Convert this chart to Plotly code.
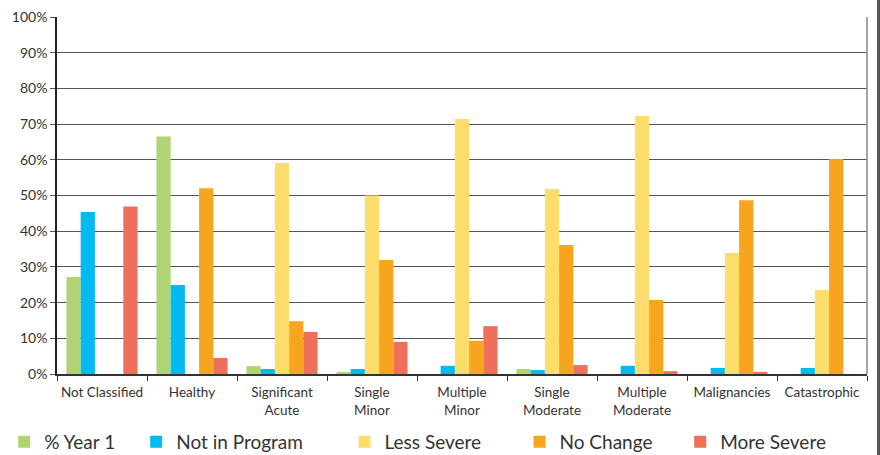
import plotly.graph_objects as go

categories = ["Not Classified", "Healthy", "Significant<br>Acute", "Single<br>Minor",
              "Multiple<br>Minor", "Single<br>Moderate", "Multiple<br>Moderate",
              "Malignancies", "Catastrophic"]

year1 = [27.2, 66.5, 2.2, 0.6, 0, 1.4, 0, 0, 0]
not_in_program = [45.4, 24.9, 1.4, 1.4, 2.3, 1.1, 2.3, 1.7, 1.7]
less_severe = [0, 0, 59.1, 50.0, 71.4, 51.8, 72.3, 33.9, 23.5]
no_change = [0, 52.0, 14.8, 31.9, 9.3, 36.1, 20.7, 48.7, 60.2]
more_severe = [46.9, 4.5, 11.8, 9.0, 13.4, 2.5, 0.8, 0.6, 0]

series_names = ["% Year 1", "Not in Program", "Less Severe", "No Change", "More Severe"]
series_values = [year1, not_in_program, less_severe, no_change, more_severe]
colors = ["#b0d474", "#00baf0", "#ffdd6b", "#f7a51e", "#ee6f5a"]

# legend symbol left positions in pixels (reference)
legend_px = [20.7, 152.7, 361, 536, 696.7]

W, H = 880, 455
ML, MR, MT, MB = 57, 13, 17, 81
PW = W - ML - MR
PH = H - MT - MB

fig = go.Figure()
for i, (name, vals, col) in enumerate(zip(series_names, series_values, colors)):
    lg = "legend" if i == 0 else f"legend{i+1}"
    fig.add_trace(go.Bar(x=categories, y=vals, name=name, marker_color=col,
                         marker_line_width=0, legend=lg))

font_family = "Lato, 'Open Sans', sans-serif"
text_col = "#333333"

layout_legends = {}
for i, px in enumerate(legend_px):
    key = "legend" if i == 0 else f"legend{i+1}"
    layout_legends[key] = dict(
        xref="container", yref="container",
        x=(px - 16.5) / W, xanchor="left",
        y=(H - 442) / H, yanchor="middle",
        orientation="h", bgcolor="rgba(0,0,0,0)",
        font=dict(family=font_family, size=19, color=text_col),
        borderwidth=0,
    )

fig.update_layout(
    template="none",
    width=W, height=H,
    margin=dict(l=ML, r=MR, t=MT, b=MB, pad=0, autoexpand=False),
    paper_bgcolor="white", plot_bgcolor="white",
    barmode="group", bargap=0.21, bargroupgap=0,
    font=dict(family=font_family, size=13, color=text_col),
    showlegend=True,
    **layout_legends,
)

fig.update_xaxes(
    automargin=False, tickangle=0, ticklabelstandoff=5,
    showgrid=False, showline=True, linecolor="#333", linewidth=1.5,
    ticks="outside", tickson="boundaries", ticklen=5, tickcolor="#333",
    tickfont=dict(family=font_family, size=13.5, color=text_col),
)
fig.update_yaxes(
    automargin=False,
    range=[0, 100], dtick=10, ticksuffix="%",
    showgrid=True, gridcolor="#555", gridwidth=1.2,
    showline=True, linecolor="#222", linewidth=1.5,
    ticks="outside", ticklen=5, tickcolor="#555",
    tickfont=dict(family=font_family, size=14, color=text_col),
    zeroline=False,
)

# right plot border and outer frame
fig.add_shape(type="line", xref="paper", yref="paper", x0=1, x1=1, y0=0, y1=1,
              line=dict(color="#888", width=1.5))
fig.add_shape(type="line", xref="paper", yref="paper",
              x0=(878.5 - ML) / PW, x1=(878.5 - ML) / PW,
              y0=(MT + PH) / PH, y1=(MT + PH - H) / PH,
              line=dict(color="#555", width=3))

fig.write_html("out.html")
